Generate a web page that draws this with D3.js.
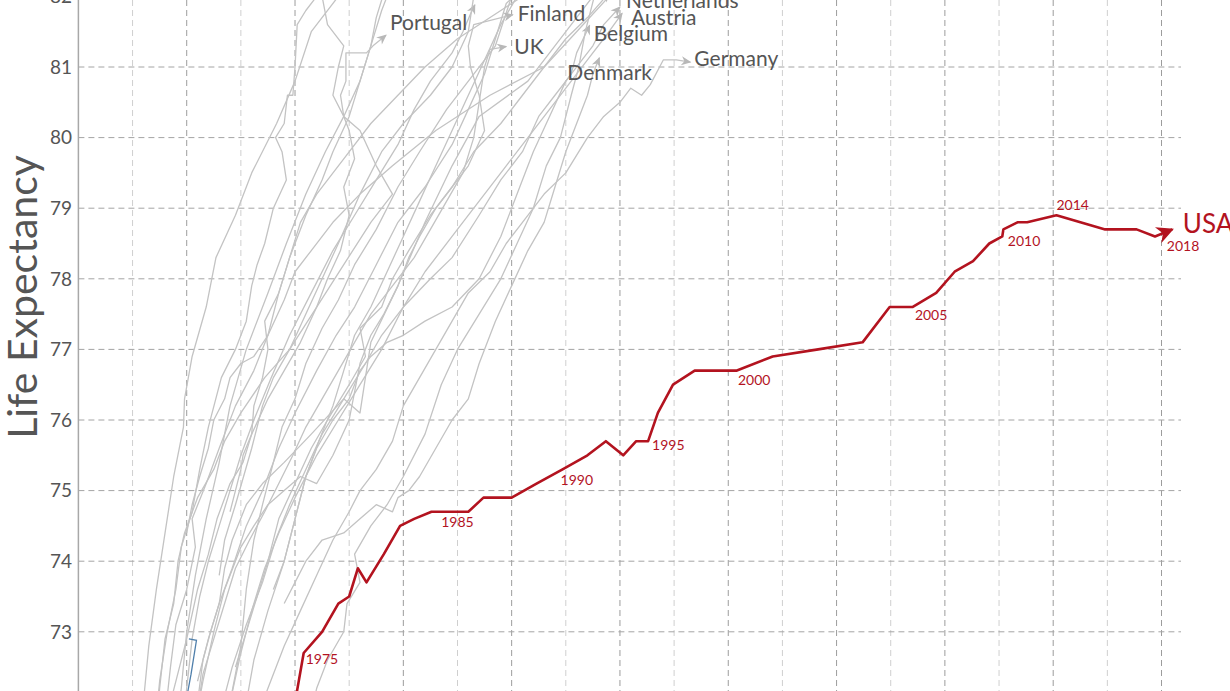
<!DOCTYPE html>
<html><head><meta charset="utf-8">
<script src="https://cdn.jsdelivr.net/npm/d3@7"></script>
<style>
body{margin:0;background:#fff;overflow:hidden}
svg{display:block;font-family:Lato,"Open Sans",sans-serif}
</style></head>
<body><svg id="chart" width="1230" height="691"></svg>
<script>
// ---------- DATA ----------
// x: health spending per capita (thousand $), y: life expectancy (years)
const yTickValues = [72,73,74,75,76,77,78,79,80,81,82];
const xGridValues = [0.5,1,1.5,2,2.5,3,3.5,4,4.5,5,5.5,6,6.5,7,7.5,8,8.5,9,9.5,10];

const usaYears = [1970,1971,1972,1973,1974,1975,1976,1977,1978,1979,1980,1981,1982,1983,1984,1985,1986,1987,1988,1989,1990,1991,1992,1993,1994,1995,1996,1997,1998,1999,2000,2001,2002,2003,2004,2005,2006,2007,2008,2009,2010,2011,2012,2013,2014,2015,2016,2017,2018];
const usaSpend = [1.75,1.82,1.90,1.95,2.00,2.08,2.25,2.40,2.50,2.58,2.66,2.82,2.97,3.10,3.26,3.34,3.60,3.74,4.00,4.23,4.47,4.70,4.87,5.03,5.15,5.26,5.35,5.49,5.69,5.89,6.08,6.41,6.83,7.24,7.49,7.70,7.92,8.09,8.26,8.41,8.53,8.54,8.67,8.76,9.03,9.48,9.77,9.94,10.10];
const usaLife  = [70.8,71.1,71.2,71.4,72.0,72.7,73.0,73.4,73.5,73.9,73.7,74.1,74.5,74.6,74.7,74.7,74.7,74.9,74.9,75.1,75.3,75.5,75.7,75.5,75.7,75.7,76.1,76.5,76.7,76.7,76.7,76.9,77.0,77.1,77.6,77.6,77.8,78.1,78.25,78.5,78.6,78.7,78.8,78.8,78.9,78.7,78.7,78.6,78.7];
const usaLabeledYears = [1975,1985,1990,1995,2000,2005,2010,2014,2018];

const japan = [[0.55,71.2],[0.6,72.0],[0.65,72.8],[0.72,73.6],[0.8,74.4],[0.88,75.2],[0.97,75.9],[0.98,76.3],[1.05,76.9],[1.18,77.6],[1.27,78.3],[1.45,78.9],[1.6,79.5],[1.83,80.2],[2.0,80.8],[2.15,81.5],[2.4,82.0],[2.7,82.6],[3.2,83.2],[3.8,83.8],[4.4,84.2]];
const spain = [[0.7,71.5],[0.75,72.3],[0.82,73.0],[0.9,73.6],[0.95,74.2],[1.05,74.7],[1.12,75.3],[1.2,75.9],[1.32,76.6],[1.45,77.0],[1.55,77.4],[1.6,77.9],[1.65,78.2],[1.72,78.5],[1.8,79.0],[1.92,79.4],[1.88,79.8],[1.82,80.0],[1.9,80.2],[1.93,80.6],[1.98,80.6],[2.0,81.0],[2.02,81.6],[2.1,81.8],[2.3,82.2],[2.6,82.7],[2.9,83.2],[3.3,83.5]];
const italy = [[0.8,71.8],[0.85,72.5],[0.9,73.1],[1.0,73.6],[1.08,74.2],[1.05,74.6],[1.18,75.1],[1.3,75.6],[1.45,76.2],[1.62,76.7],[1.75,77.2],[1.85,77.8],[1.95,78.3],[2.1,78.9],[2.25,79.4],[2.35,79.8],[2.5,80.3],[2.6,80.8],[2.7,81.3],[2.8,81.8],[2.9,82.2],[3.1,82.7],[3.4,83.4]];
const greece = [[0.72,71.6],[0.75,72.2],[0.8,72.9],[0.88,73.4],[0.92,74.0],[0.98,74.4],[1.1,74.9],[1.25,75.3],[1.35,75.7],[1.5,76.1],[1.72,76.6],[1.95,77.0],[2.2,77.6],[2.45,78.2],[2.7,78.8],[2.9,79.2],[2.75,79.6],[2.6,80.1],[2.45,80.3],[2.35,80.6],[2.4,81.0],[2.45,81.3],[2.3,81.6],[2.25,82.0],[2.3,82.2]];
const portugal = [[0.7,71.0],[0.85,72.0],[1.0,72.9],[1.1,73.6],[1.2,74.1],[1.28,74.6],[1.4,75.1],[1.52,75.4],[1.6,75.8],[1.75,76.3],[1.9,76.7],[2.05,77.1],[2.2,77.6],[2.3,78.0],[2.42,78.4],[2.5,78.9],[2.45,79.3],[2.55,79.7],[2.5,80.1],[2.45,80.3],[2.42,80.6],[2.47,80.8],[2.47,81.2],[2.66,81.2],[2.72,81.3],[2.84,81.45]];
const korea = [[0.75,69.8],[0.85,71.0],[0.95,72.2],[1.0,73.0],[1.08,73.8],[1.18,74.6],[1.3,75.4],[1.4,76.2],[1.55,77.0],[1.75,77.8],[1.92,78.5],[2.1,79.2],[2.28,79.8],[2.45,80.3],[2.6,80.8],[2.7,81.3],[2.75,81.7],[2.85,82.2],[3.0,82.7]];
const france = [[1.1,72.3],[1.2,72.9],[1.3,73.4],[1.42,73.9],[1.55,74.5],[1.7,75.0],[1.85,75.6],[2.0,76.1],[2.2,76.7],[2.38,77.2],[2.55,77.6],[2.75,78.2],[2.95,78.8],[3.2,79.3],[3.45,79.9],[3.6,80.4],[3.75,80.9],[3.85,81.4],[3.95,81.9],[4.3,82.4],[4.9,82.7]];
const sweden = [[1.4,74.7],[1.45,75.0],[1.5,75.3],[1.52,75.5],[1.6,75.8],[1.62,76.2],[1.7,76.6],[1.75,77.0],[1.72,77.4],[1.85,77.8],[1.95,78.3],[2.05,78.8],[2.2,79.2],[2.45,79.7],[2.7,80.2],[2.95,80.6],[3.2,81.0],[3.5,81.4],[3.9,81.8],[4.3,82.2],[4.8,82.6]];
const norway = [[1.0,74.4],[1.05,74.8],[1.12,75.2],[1.2,75.6],[1.25,76.0],[1.35,76.3],[1.4,76.6],[1.5,76.8],[1.62,76.9],[1.75,77.2],[1.9,77.7],[2.0,78.1],[2.15,78.4],[2.35,78.8],[2.6,79.2],[2.9,79.6],[3.3,80.1],[3.8,80.6],[4.3,81.0],[4.6,81.5],[4.9,82.0],[5.6,82.6],[6.2,82.8]];
const switzerland = [[1.55,72.0],[1.62,72.6],[1.75,73.3],[1.9,74.0],[2.0,74.6],[2.1,75.2],[2.22,75.7],[2.35,76.2],[2.45,76.7],[2.55,77.2],[2.7,77.6],[2.85,78.1],[3.0,78.6],[3.15,79.1],[3.3,79.6],[3.45,80.1],[3.6,80.6],[3.75,81.1],[3.9,81.6],[4.05,82.0],[4.5,82.6],[5.2,83.2],[6.0,83.7]];
const australia = [[1.3,71.2],[1.4,72.0],[1.5,72.8],[1.55,73.6],[1.62,74.3],[1.7,74.8],[1.8,75.4],[1.88,75.9],[2.0,76.3],[2.1,76.8],[2.25,77.3],[2.4,77.7],[2.55,78.2],[2.75,78.7],[2.95,79.3],[3.15,79.8],[3.4,80.4],[3.65,80.9],[3.85,81.3],[4.0,82.0],[4.5,82.5],[4.9,82.7]];
const canada = [[1.45,72.5],[1.55,73.0],[1.65,73.5],[1.75,74.0],[1.85,74.6],[2.0,75.1],[2.15,75.6],[2.3,76.0],[2.5,76.5],[2.65,76.9],[2.6,77.3],[2.8,77.6],[2.9,78.0],[3.05,78.4],[3.25,78.9],[3.45,79.3],[3.65,79.8],[3.9,80.2],[4.1,80.6],[4.3,81.0],[4.5,81.4],[4.7,81.7],[4.9,82.05]];
const ireland = [[1.0,71.3],[1.1,72.0],[1.15,72.6],[1.22,73.0],[1.3,73.4],[1.35,73.9],[1.42,74.3],[1.55,74.8],[1.7,75.1],[1.9,75.4],[2.15,75.8],[2.45,76.3],[2.6,76.1],[2.7,77.1],[2.95,77.9],[3.2,78.8],[3.45,79.6],[3.7,80.3],[4.15,80.8],[4.35,81.2],[4.55,81.6],[4.75,82.0],[5.0,82.3]];
const netherlands = [[1.8,73.6],[1.9,74.0],[2.0,74.6],[2.1,75.2],[2.2,75.6],[2.35,76.0],[2.5,76.3],[2.6,76.7],[2.7,76.9],[2.85,77.1],[3.0,77.2],[3.2,77.4],[3.45,77.6],[3.7,78.0],[3.9,78.6],[4.05,79.2],[4.2,79.8],[4.35,80.3],[4.5,80.8],[4.65,81.1],[4.75,81.3],[4.85,81.6],[5.0,81.85]];
const austria = [[1.2,70.5],[1.3,71.3],[1.4,72.0],[1.5,72.7],[1.6,73.3],[1.72,73.9],[1.85,74.4],[2.0,74.9],[2.2,75.5],[2.4,76.0],[2.6,76.5],[2.8,77.0],[3.0,77.6],[3.2,78.1],[3.45,78.6],[3.7,79.1],[3.95,79.6],[4.15,80.0],[4.35,80.4],[4.55,80.8],[4.7,81.1],[4.85,81.4],[5.02,81.76]];
const belgium = [[1.2,71.0],[1.3,71.8],[1.42,72.5],[1.55,73.1],[1.7,73.7],[1.82,74.3],[1.95,74.8],[2.1,75.3],[2.25,75.8],[2.45,76.3],[2.65,76.8],[2.8,77.2],[3.0,77.6],[3.25,78.0],[3.45,78.3],[3.7,78.9],[3.9,79.4],[4.1,79.8],[4.25,80.3],[4.4,80.6],[4.55,80.9],[4.6,81.2],[4.72,81.59]];
const denmark = [[1.9,73.4],[2.0,73.7],[2.1,74.0],[2.25,74.3],[2.45,74.4],[2.6,74.6],[2.75,74.8],[2.9,74.7],[2.95,74.9],[3.05,75.0],[3.15,75.2],[3.3,75.6],[3.45,76.0],[3.6,76.3],[3.7,76.8],[3.85,77.4],[4.0,77.9],[4.15,78.4],[4.3,78.8],[4.4,79.3],[4.5,79.8],[4.6,80.2],[4.7,80.6],[4.75,80.9],[4.81,81.13]];
const germany = [[1.5,71.0],[1.6,71.6],[1.75,72.2],[1.9,72.8],[2.05,73.3],[2.2,73.8],[2.35,74.3],[2.5,74.7],[2.6,75.0],[2.75,75.3],[2.9,75.7],[3.0,76.2],[3.15,76.6],[3.3,77.0],[3.45,77.4],[3.6,77.8],[3.8,78.1],[3.95,78.5],[4.1,78.8],[4.3,79.2],[4.5,79.5],[4.7,80.0],[4.85,80.3],[5.0,80.5],[5.1,80.7],[5.2,80.6],[5.28,80.75],[5.4,81.1],[5.52,81.1],[5.65,81.07]];
const finland = [[0.95,70.8],[1.05,71.5],[1.15,72.3],[1.25,73.0],[1.35,73.6],[1.5,74.2],[1.62,74.5],[1.75,74.8],[1.9,75.0],[2.05,75.2],[2.2,75.1],[2.35,75.5],[2.5,76.0],[2.55,76.4],[2.6,76.8],[2.7,77.2],[2.82,77.5],[2.95,77.9],[3.05,78.3],[3.15,78.6],[3.3,79.0],[3.45,79.3],[3.6,79.6],[3.75,80.1],[3.7,80.6],[3.62,81.0],[3.6,81.3],[3.65,81.6],[4.01,81.74]];
const uk = [[1.1,71.9],[1.15,72.4],[1.25,72.9],[1.35,73.4],[1.45,73.9],[1.58,74.3],[1.72,74.7],[1.85,75.1],[1.98,75.5],[2.1,75.9],[2.25,76.3],[2.4,76.7],[2.55,77.1],[2.7,77.5],[2.9,77.9],[3.1,78.3],[3.25,78.7],[3.4,79.1],[3.55,79.5],[3.65,80.0],[3.7,80.5],[3.75,81.0],[3.8,81.25],[3.95,81.29]];
const newZealand = [[0.95,71.5],[1.0,72.2],[1.05,72.9],[1.12,73.5],[1.2,74.0],[1.3,74.5],[1.4,75.0],[1.5,75.5],[1.62,76.0],[1.78,76.6],[1.95,77.2],[2.15,77.8],[2.35,78.4],[2.55,78.9],[2.75,79.4],[2.95,79.9],[3.1,80.4],[3.25,80.8],[3.45,81.2],[3.55,81.5],[3.62,81.75],[3.66,81.88]];
const luxembourg = [[2.1,71.5],[2.2,72.2],[2.3,72.6],[2.45,73.0],[2.48,73.4],[2.6,73.7],[2.55,74.1],[2.7,74.5],[2.85,74.8],[3.0,75.2],[3.2,75.8],[3.35,76.5],[3.5,77.0],[3.7,77.5],[3.9,78.0],[4.05,78.5],[4.2,79.0],[4.32,79.6],[4.45,80.0],[4.55,80.6],[4.62,81.0],[4.68,81.5],[4.78,82.1]];
const iceland = [[1.3,73.8],[1.35,74.3],[1.45,74.8],[1.6,75.6],[1.7,76.2],[1.8,76.6],[1.95,77.0],[2.1,77.5],[2.25,78.0],[2.4,78.5],[2.6,79.2],[2.8,79.8],[3.0,80.2],[3.25,80.6],[3.45,81.0],[3.6,81.5],[3.65,82.0],[3.8,82.5]];
const chile = [[0.93,71.2],[0.98,71.9],[1.04,72.4],[1.09,72.88],[1.02,72.9]];

const countryNames = ["Japan","Spain","Italy","Greece","Portugal","Korea","France","Sweden","Norway","Switzerland","Australia","Canada","Ireland","Netherlands","Austria","Belgium","Denmark","Germany","Finland","UK","New Zealand","Luxembourg","Iceland"];
const countryPoints = [japan,spain,italy,greece,portugal,korea,france,sweden,norway,switzerland,australia,canada,ireland,netherlands,austria,belgium,denmark,germany,finland,uk,newZealand,luxembourg,iceland];
const labeledCountries = ["Portugal","Finland","UK","Netherlands","Austria","Belgium","Denmark","Germany"];

// ---------- LAYOUT / STYLE ----------
const W = 1230, H = 691;
const svg = d3.select("#chart");
const x = d3.scaleLinear().domain([0, 10.18]).range([78.4, 1181]);
const y = d3.scaleLinear().domain([72, 82]).range([702.4, -3.6]);

const countryLabelOffset = {
  Portugal:[4,-5.5], Finland:[5,6.5], UK:[8,7.5], Netherlands:[6,0.5],
  Austria:[9,11.5], Belgium:[4,15.5], Denmark:[-32,22.5], Germany:[4,3.5]
};
const yearLabelOffset = {
  1975:[2,11],1985:[1,15],1990:[-2,16],1995:[4,8.5],2000:[1,14],
  2005:[2.5,12.5],2010:[5.5,9.5],2014:[0,-5],2018:[-5.5,21.5]
};
const RED = "#b3131f", GREY_LINE = "#c3c3c3", TEXT = "#555";

// defs: arrow markers
const defs = svg.append("defs");
defs.append("marker").attr("id","arrGrey").attr("viewBox","0 0 10 10")
  .attr("refX",9).attr("refY",5).attr("markerWidth",11).attr("markerHeight",10)
  .attr("markerUnits","userSpaceOnUse").attr("orient","auto")
  .append("path").attr("d","M0,0.5 L10,5 L0,9.5 L3,5 Z").attr("fill","#b8b8b8");
defs.append("marker").attr("id","arrRed").attr("viewBox","0 0 10 10")
  .attr("refX",9).attr("refY",5).attr("markerWidth",19).attr("markerHeight",17)
  .attr("markerUnits","userSpaceOnUse").attr("orient","auto")
  .append("path").attr("d","M0,0 L10,5 L0,10 L3,5 Z").attr("fill",RED);

// grid: vertical
const grid = svg.append("g");
grid.selectAll("line.v").data(xGridValues).join("line")
  .attr("x1",d=>x(d)).attr("x2",d=>x(d)).attr("y1",0).attr("y2",H)
  .attr("stroke",d=>Number.isInteger(d)?"#9c9c9c":"#cfcfcf")
  .attr("stroke-width",1).attr("stroke-dasharray","6,4");
// grid: horizontal
grid.selectAll("line.h").data(yTickValues).join("line")
  .attr("x1",x(0)).attr("x2",x.range()[1]).attr("y1",d=>y(d)).attr("y2",d=>y(d))
  .attr("stroke","#a4a4a4").attr("stroke-width",1).attr("stroke-dasharray","6,4");

// y axis line
svg.append("line").attr("x1",x(0)).attr("x2",x(0)).attr("y1",0).attr("y2",H)
  .attr("stroke","#a8a8a8").attr("stroke-width",1.5);

// y tick labels
svg.append("g").selectAll("text").data(yTickValues).join("text")
  .attr("x",72).attr("y",d=>y(d)).attr("dy","0.36em")
  .attr("text-anchor","end").attr("font-size",19).attr("fill",TEXT)
  .text(d=>d);

// y title
svg.append("text").attr("transform",`translate(37,297) rotate(-90)`)
  .attr("text-anchor","middle").attr("font-size",41).attr("fill",TEXT)
  .text("Life Expectancy");

const line = d3.line().x(d=>x(d[0])).y(d=>y(d[1]));

// grey country lines
const countries = countryNames.map((n,i)=>({name:n, pts:countryPoints[i]}));
svg.append("g").selectAll("path").data(countries).join("path")
  .attr("d",d=>line(d.pts)).attr("fill","none")
  .attr("stroke",GREY_LINE).attr("stroke-width",1.3)
  .attr("stroke-linejoin","round")
  .attr("marker-end","url(#arrGrey)");

// blue highlighted line
svg.append("path").attr("d",line(chile)).attr("fill","none")
  .attr("stroke","#4f7fab").attr("stroke-width",1.3);

// country labels
svg.append("g").selectAll("text")
  .data(countries.filter(c=>labeledCountries.includes(c.name))).join("text")
  .attr("x",d=>x(d.pts[d.pts.length-1][0]) + countryLabelOffset[d.name][0])
  .attr("y",d=>y(d.pts[d.pts.length-1][1]) + countryLabelOffset[d.name][1])
  .attr("font-size",21).attr("fill",TEXT).text(d=>d.name);

// USA line
const usa = usaYears.map((yr,i)=>({year:yr, pt:[usaSpend[i], usaLife[i]]}));
svg.append("path").attr("d",line(usa.map(d=>d.pt))).attr("fill","none")
  .attr("stroke",RED).attr("stroke-width",2.6).attr("stroke-linejoin","round")
  .attr("marker-end","url(#arrRed)");

// year labels
svg.append("g").selectAll("text").data(usa.filter(d=>usaLabeledYears.includes(d.year))).join("text")
  .attr("x",d=>x(d.pt[0]) + yearLabelOffset[d.year][0])
  .attr("y",d=>y(d.pt[1]) + yearLabelOffset[d.year][1])
  .attr("font-size",14).attr("fill",RED).text(d=>d.year);

// USA label
const last = usa[usa.length-1].pt;
svg.append("text").attr("x",x(last[0])+10.5).attr("y",y(last[1])+3.6)
  .attr("font-size",26).attr("fill",RED).text("USA");
</script>
</body></html>
